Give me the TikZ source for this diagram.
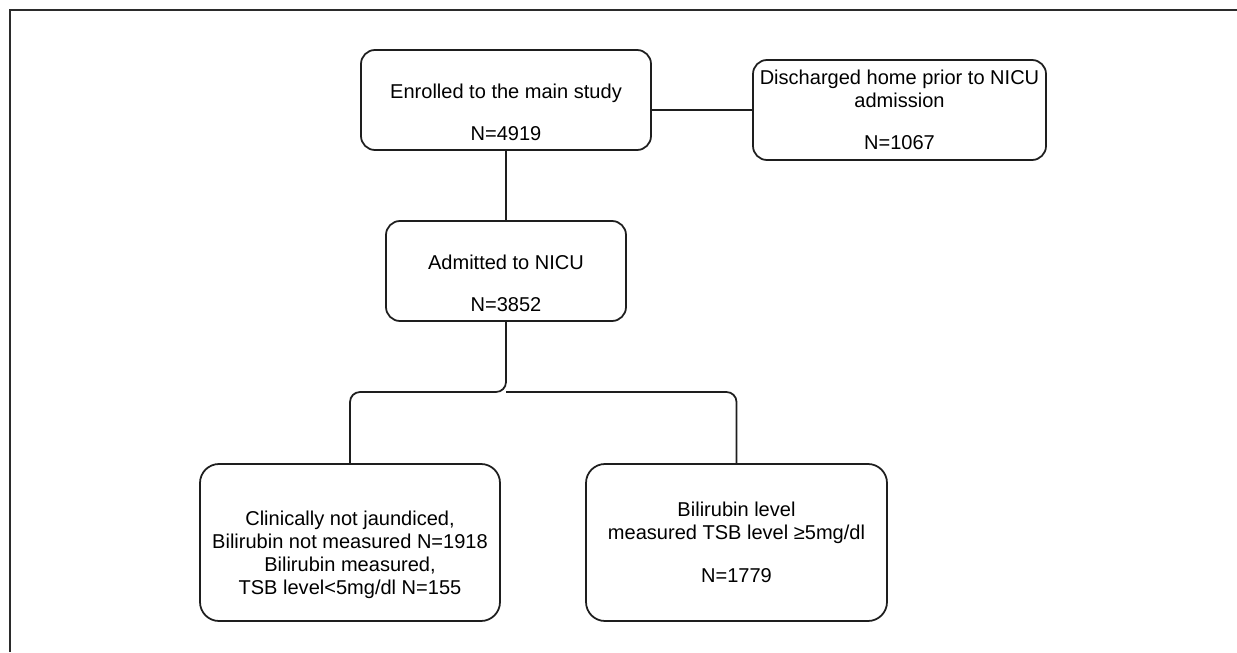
\documentclass[tikz,border=0pt]{standalone}
\usepackage{fontspec}
\setmainfont{Liberation Sans}
\usetikzlibrary{calc}
\definecolor{strokedark}{HTML}{1E1E1E}
\definecolor{framedark}{HTML}{2B2B2B}
\tikzset{
    stage box/.style={
        draw=strokedark,
        rounded corners=0.28cm,
        line width=1pt,
        align=center,
        inner sep=0pt
    },
    outcome box/.style={
        stage box,
        rounded corners=0.38cm
    },
    link/.style={
        draw=strokedark,
        line width=1pt
    },
    frame line/.style={
        draw=framedark,
        line width=1.3pt
    }
}

\begin{document}
\begin{tikzpicture}[font=\fontsize{11.4}{13.1}\selectfont]

    \useasboundingbox (0,0) rectangle (24.74,13.04);

    % Page frame (only the top and left edges are visible).
    \draw[frame line] (0.20,0) -- (0.20,12.84) -- (24.74,12.84);

    % -------------------------------------------------------------------------
    % 1. Main study and NICU admission.
    % -------------------------------------------------------------------------
    \node[stage box, minimum width=5.80cm, minimum height=2.00cm]
        (enrolled) at (10.12,11.04)
        {\strut\\Enrolled to the main study\\[11pt]N=4919};

    \node[stage box, minimum width=5.86cm, minimum height=2.00cm]
        (discharged) at (17.99,10.84)
        {Discharged home prior to NICU\\admission\\[11pt]N=1067};

    \node[stage box, minimum width=4.80cm, minimum height=2.00cm]
        (admitted) at (10.12,7.62)
        {\strut\\Admitted to NICU\\[11pt]N=3852};

    \draw[link] (enrolled.south) -- (admitted.north);
    \draw[link] (discharged.west) -- (discharged.west -| enrolled.east);

    % -------------------------------------------------------------------------
    % 2. Bilirubin outcome groups.
    % -------------------------------------------------------------------------
    \node[outcome box, minimum width=6.00cm, minimum height=3.14cm]
        (notjaundiced) at (7.00,2.19)
        {\strut\\Clinically not jaundiced,\\Bilirubin not measured N=1918\\
         Bilirubin measured,\\TSB level<5mg/dl N=155};

    \node[outcome box, minimum width=6.02cm, minimum height=3.14cm]
        (measured) at (14.73,2.19)
        {Bilirubin level\\measured TSB level ≥5mg/dl\\[11pt]N=1779};

    \coordinate (splitlevel) at (0,5.20);
    \coordinate (split) at (admitted.south |- splitlevel);
    \draw[link, rounded corners=0.2cm]
        (admitted.south) -- (split) -- (split -| notjaundiced.north)
        -- (notjaundiced.north);
    \draw[link, rounded corners=0.2cm]
        (split) -- (split -| measured.north) -- (measured.north);

\end{tikzpicture}
\end{document}
